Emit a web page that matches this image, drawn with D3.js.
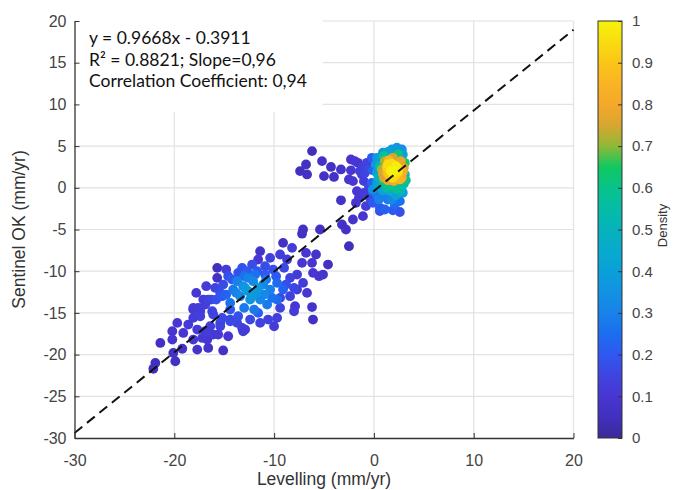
<!DOCTYPE html>
<html>
<head>
<meta charset="utf-8">
<script src="https://cdn.jsdelivr.net/npm/d3@7"></script>
<style>
  body { margin: 0; background: #fff; }
  svg { display: block; }
</style>
</head>
<body>
<svg id="chart"></svg>
<script>
// values (mm/yr) and their point density
const levelling = [
  // upper left group + band towards the origin
  -6.2,-6.8,-7.4,-6.7,-5.2,-4.3,-5.0,-4.0,-3.3,-2.3,-1.9,-1.6,-2.3,-2.5,-2.1,-1.1,-0.7,-1.2,-1.0,-1.7,
  -1.5,-1.8,-3.3,-1.1,-2.1,-3.2,-2.8,-5.4,-7.1,-7.2,-9.1,-2.5,-0.9,-0.6,-1.4,-0.5,-1.0,-0.4,-0.8,
  // dense cluster near the origin
  0.1,0.6,1.1,1.9,2.6,2.1,0.6,-0.1,-0.2,-0.1,-0.2,-0.1,0.9,1.4,1.8,2.6,0.3,
  0.9,2.3,1.8,2.8,0.6,0.3,1.4,2.9,
  0.3,0.4,0.3,-0.1,0.2,3.0,3.1,2.9,
  1.8,2.3,1.3,2.8,1.0,2.6,
  1.0,0.8,1.1,1.9,2.7,3.0,2.8,2.0,1.4,
  1.5,2.2,1.3,2.5,1.8,2.2,1.7,2.0,
  0.5,0.6,1.0,2.4,3.1,3.2,1.6,0.9,2.2,0.5,1.3,2.6,1.5,2.9,0.9,1.9,1.4,2.4,
  // middle band
  -11.4,-11.6,-15.7,-15.7,-9.4,-8.7,-7.2,-6.2,-4.6,-6.1,-5.5,-5.1,-7.7,-8.4,-7.1,-7.7,-8.4,-6.7,-6.2,-6.1,
  -7.9,-9.4,-9.4,-9.7,-10.6,-11.4,-12.4,-13.6,-14.4,-15.4,-16.2,-17.4,-18.1,-17.1,-16.3,-15.2,-15.9,-15.1,-14.2,-13.6,
  -12.7,-11.7,-10.9,-10.1,-12.2,-10.9,
  -13.7,-13.1,-12.1,-11.1,-10.4,-11.4,-10.7,-12.4,-13.4,-14.1,-14.4,-9.7,-9.7,-9.1,-12.6,-11.8,-13.0,-12.0,-11.0,-12.6,
  -8.8,-9.0,-13.2,-14.6,
  -12.9,-11.6,-12.2,-13.8,-10.8,-11.9,-13.0,-10.2,-14.8,-11.6,-8.0,-9.8,
  -8.2,-10.4,-6.8,-5.8,-14.8,-16.8,-17.8,-8.0,-10.0,-12.9,
  // lower left tail
  -21.4,-21.9,-22.1,-19.9,-20.1,-19.2,-17.7,-16.6,-15.1,-20.2,-20.2,-19.7,-19.1,-18.6,-18.1,-17.2,-16.7,-17.7,-16.9,-16.4,
  -16.1,-15.6,-14.6,-15.4,-18.1,-17.4,-17.6,-16.9,-16.6,-18.1,-16.1,-15.2,-14.4,-13.7,-13.2,-13.1,-14.4,-15.8,-15.4
];
const sentinel = [
  4.4,2.8,2.0,1.6,3.2,2.5,1.4,1.3,2.2,3.4,3.2,3.0,2.1,1.0,0.8,2.6,3.0,1.6,0.8,-0.4,
  -1.2,-1.8,-1.5,-3.4,-3.8,-4.4,-5.0,-5.0,-5.0,-5.5,-6.6,-7.0,1.8,2.2,2.0,0.2,-0.6,-1.2,-2.2,
  -1.6,-2.4,-2.6,-2.7,-2.9,-2.0,-2.8,-1.8,0.6,2.1,3.6,-0.4,-1.0,-1.4,-1.4,-1.6,-0.8,
  4.2,4.8,4.6,4.6,3.6,3.6,4.3,4.0,
  1.8,0.2,0.6,-0.2,2.8,0.5,1.6,-0.6,
  0.2,-0.1,0.0,0.2,0.5,-0.4,
  1.2,2.2,3.2,3.6,3.2,2.4,1.2,0.8,0.9,
  1.6,1.5,2.4,2.3,2.9,2.6,2.0,2.1,
  1.2,2.6,3.8,4.0,3.0,0.9,-0.4,-0.3,-0.9,-1.4,1.8,1.0,3.3,1.9,1.7,1.2,2.8,1.9,
  -7.6,-8.6,-9.6,-10.8,-8.0,-8.6,-9.0,-9.0,-9.2,-10.2,-10.6,-10.4,-10.4,-10.8,-11.4,-12.2,-13.0,-12.6,-14.3,-15.8,
  -14.2,-13.2,-14.4,-15.6,-15.8,-16.2,-15.8,-15.4,-15.8,-16.2,-14.8,-14.8,-14.4,-13.4,-13.4,-13.0,-12.0,-11.6,-11.0,-10.2,
  -10.0,-10.0,-10.4,-9.8,-9.2,-9.4,
  -11.2,-11.8,-11.2,-11.6,-12.2,-13.4,-14.0,-13.4,-13.0,-12.2,-13.8,-13.4,-11.4,-12.2,-12.4,-12.6,-14.4,-14.6,-12.8,-10.8,
  -11.6,-9.6,-9.6,-10.6,
  -12.0,-12.0,-13.0,-12.6,-11.0,-10.4,-10.6,-13.2,-12.8,-15.0,-12.0,-10.6,
  -7.2,-8.4,-7.8,-8.0,-9.8,-11.8,-12.6,-14.8,-16.6,-17.0,
  -18.6,-21.0,-21.7,-20.8,-19.8,-19.3,-19.4,-19.2,-19.5,-18.2,-17.2,-16.2,-17.4,-16.4,-18.2,-18.0,-18.2,-17.0,-17.2,-16.6,
  -17.6,-17.6,-17.8,-16.6,-15.6,-15.4,-14.4,-14.0,-13.4,-14.6,-15.2,-15.6,-16.0,-16.2,-16.8,-17.2,-14.6,-13.4,-12.6
];
const density = [
  .05,.06,.05,.06,.07,.07,.07,.07,.08,.09,.1,.1,.1,.09,.1,.13,.14,.13,.13,.1,
  .1,.09,.07,.09,.08,.07,.07,.06,.06,.06,.06,.05,.15,.16,.12,.15,.12,.16,.13,
  .2,.2,.22,.2,.18,.25,.18,.2,.22,.22,.2,.22,.3,.28,.32,.26,.28,
  .38,.36,.38,.34,.4,.35,.42,.4,
  .4,.42,.38,.35,.38,.45,.5,.4,
  .6,.58,.55,.55,.6,.5,
  .75,.72,.72,.75,.78,.75,.8,.8,.78,
  .9,.92,.92,.93,.95,.98,1.0,1.0,
  .5,.55,.6,.62,.65,.6,.45,.42,.4,.3,.85,.85,.85,.82,.75,.95,.95,.97,
  .08,.1,.05,.06,.12,.12,.1,.09,.06,.1,.09,.08,.12,.14,.12,.12,.14,.1,.08,.06,
  .1,.16,.15,.13,.14,.14,.16,.18,.16,.14,.15,.12,.1,.12,.15,.2,.15,.17,.2,.18,
  .2,.2,.2,.18,.17,.17,
  .3,.34,.32,.32,.3,.32,.28,.34,.32,.28,.26,.24,.24,.22,.36,.36,.28,.28,.32,.3,
  .18,.16,.18,.18,
  .38,.38,.38,.3,.28,.26,.26,.26,.22,.22,.16,.2,
  .12,.14,.1,.08,.12,.12,.1,.12,.12,.12,
  .06,.05,.05,.06,.07,.08,.08,.08,.07,.09,.09,.1,.1,.11,.1,.11,.1,.12,.12,.13,
  .11,.11,.1,.14,.12,.13,.12,.13,.14,.11,.15,.16,.16,.15,.13,.12,.2,.18,.18
];

const xTicks = [-30, -20, -10, 0, 10, 20];
const yTicks = [-30, -25, -20, -15, -10, -5, 0, 5, 10, 15, 20];
const densityTicks = [0, 0.1, 0.2, 0.3, 0.4, 0.5, 0.6, 0.7, 0.8, 0.9, 1];

// colour map of the density bar
const densityStops  = [0, 0.05, 0.1, 0.15, 0.2, 0.25, 0.3, 0.35, 0.4, 0.45, 0.5, 0.55, 0.6, 0.65, 0.7, 0.75, 0.8, 0.85, 0.9, 0.95, 1];
const densityColors = ['#3b2a98','#4130be','#4836d2','#3f44e0','#2f58f0','#1c6ef0','#1882ea','#1292e2','#0aa0d8','#08aacd',
                       '#06b2bb','#05bca5','#08c38a','#10c860','#90b838','#d8a630','#f5a82a','#f9b424','#fbc518','#f9dc10','#f6f30a'];

const fitSlope = 0.9668;
const fitIntercept = -0.3911;
const annotationLines = ['y = 0.9668x - 0.3911', 'R\u00B2 = 0.8821; Slope=0,96', 'Correlation Coefficient: 0,94'];

const WIDTH = 675, HEIGHT = 490;
const plot = { left: 74.5, right: 573.5, top: 21, bottom: 438 };
const bar = { left: 598, right: 622 };
const TICK_FONT = '"Liberation Sans", Arial, Helvetica, sans-serif';

const svg = d3.select('#chart')
  .attr('width', WIDTH)
  .attr('height', HEIGHT)
  .attr('viewBox', `0 0 ${WIDTH} ${HEIGHT}`);

const x = d3.scaleLinear().domain([-30, 20]).range([plot.left, plot.right]);
const y = d3.scaleLinear().domain([-30, 20]).range([plot.bottom, plot.top]);
const color = d3.scaleLinear().domain(densityStops).range(densityColors).clamp(true);

//----------//
// grid
//----------//
const grid = svg.append('g').attr('class', 'grid')
  .attr('stroke', '#e2e2e2').attr('stroke-width', 1.2);
grid.selectAll('line.gx').data(xTicks.slice(1)).enter().append('line')
  .attr('x1', d => x(d)).attr('x2', d => x(d))
  .attr('y1', plot.top).attr('y2', plot.bottom);
grid.selectAll('line.gy').data(yTicks.slice(1)).enter().append('line')
  .attr('x1', plot.left).attr('x2', plot.right)
  .attr('y1', d => y(d)).attr('y2', d => y(d));

// white box behind the fit text hides the grid
svg.append('rect')
  .attr('x', plot.left + 0.5).attr('y', 0)
  .attr('width', x(-5.2) - plot.left).attr('height', y(9.1))
  .attr('fill', '#fff');

//----------//
// points, low density first so the dense core sits on top
//----------//
const points = levelling.map((v, i) => ({ lev: v, sen: sentinel[i], den: density[i] }))
  .sort((a, b) => a.den - b.den);

svg.append('g').attr('class', 'points')
  .selectAll('circle').data(points).enter().append('circle')
  .attr('cx', d => x(d.lev))
  .attr('cy', d => y(d.sen))
  .attr('r', 4.9)
  .attr('fill', d => color(d.den));

// regression line
const fitLine = d3.line().x(d => x(d)).y(d => y(fitSlope * d + fitIntercept));
svg.append('path')
  .attr('d', fitLine(x.domain()))
  .attr('fill', 'none')
  .attr('stroke', '#111')
  .attr('stroke-width', 2)
  .attr('stroke-dasharray', '10,6');

//----------//
// axes
//----------//
const plainNum = d => String(d);   // hyphen minus like the original, not the unicode minus
const xAxis = svg.append('g')
  .attr('transform', `translate(0,${plot.bottom})`)
  .call(d3.axisBottom(x).tickValues(xTicks).tickFormat(plainNum).tickSizeInner(-5).tickSizeOuter(0).tickPadding(17));
const yAxis = svg.append('g')
  .attr('transform', `translate(${plot.left},0)`)
  .call(d3.axisLeft(y).tickValues(yTicks).tickFormat(plainNum).tickSizeInner(-5).tickSizeOuter(0).tickPadding(8));

[xAxis, yAxis].forEach(a => {
  a.select('.domain').attr('stroke', '#333').attr('stroke-width', 1.3);
  a.selectAll('.tick line').attr('stroke', '#333');
  a.selectAll('.tick text')
    .attr('fill', '#444')
    .style('font-family', TICK_FONT)
    .style('font-size', '16px');
});

svg.append('text')
  .attr('x', (plot.left + plot.right) / 2).attr('y', 485)
  .attr('text-anchor', 'middle')
  .attr('fill', '#333')
  .style('font-family', TICK_FONT).style('font-size', '17.5px')
  .text('Levelling (mm/yr)');

svg.append('text')
  .attr('transform', `translate(25,${(plot.top + plot.bottom) / 2}) rotate(-90)`)
  .attr('text-anchor', 'middle')
  .attr('fill', '#333')
  .style('font-family', TICK_FONT).style('font-size', '17.5px')
  .text('Sentinel OK (mm/yr)');

// fit text
svg.append('g').attr('class', 'annotation')
  .selectAll('text').data(annotationLines).enter().append('text')
  .attr('x', 89)
  .attr('y', (d, i) => 44 + i * 21.5)
  .attr('fill', '#111')
  .style('font-family', 'Lato, "Open Sans", sans-serif')
  .style('font-size', '17.5px')
  .text(d => d);

//----------//
// colour bar
//----------//
const cy = d3.scaleLinear().domain([0, 1]).range([plot.bottom, plot.top]);
const defs = svg.append('defs');
const grad = defs.append('linearGradient')
  .attr('id', 'density-grad')
  .attr('x1', 0).attr('y1', 1).attr('x2', 0).attr('y2', 0);
grad.selectAll('stop').data(densityStops).enter().append('stop')
  .attr('offset', d => d)
  .attr('stop-color', (d, i) => densityColors[i]);

svg.append('rect')
  .attr('x', bar.left).attr('y', plot.top)
  .attr('width', bar.right - bar.left).attr('height', plot.bottom - plot.top)
  .attr('fill', 'url(#density-grad)')
  .attr('stroke', '#333').attr('stroke-width', 1);

const cAxis = svg.append('g')
  .attr('transform', `translate(${bar.right},0)`)
  .call(d3.axisRight(cy).tickValues(densityTicks).tickFormat(d3.format('~g'))
    .tickSizeInner(-4).tickSizeOuter(0).tickPadding(10));
cAxis.select('.domain').remove();
cAxis.selectAll('.tick line').attr('stroke', '#333');
cAxis.selectAll('.tick text')
  .attr('fill', '#444')
  .style('font-family', TICK_FONT)
  .style('font-size', '15px');

svg.append('text')
  .attr('transform', `translate(667,${(plot.top + plot.bottom) / 2 - 4}) rotate(-90)`)
  .attr('text-anchor', 'middle')
  .attr('fill', '#333')
  .style('font-family', TICK_FONT).style('font-size', '13px')
  .text('Density');
</script>
</body>
</html>
